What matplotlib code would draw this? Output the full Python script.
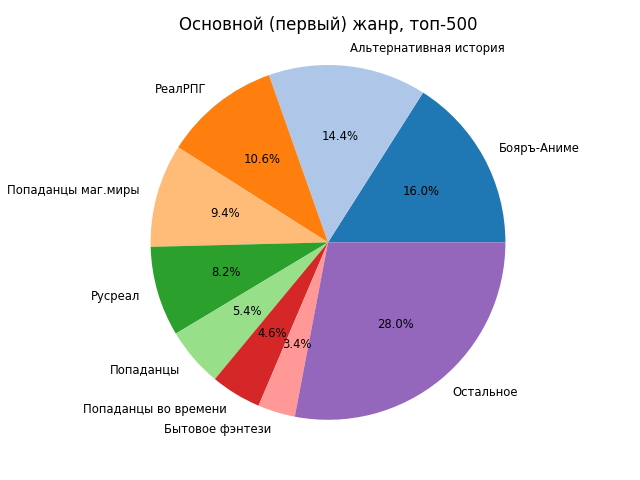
import matplotlib
matplotlib.use("Agg")
import matplotlib.pyplot as plt

labels = ["Бояръ-Аниме", "Альтернативная история", "РеалРПГ", "Попаданцы маг.миры",
          "Русреал", "Попаданцы", "Попаданцы во времени", "Бытовое фэнтези", "Остальное"]
counts = [80, 72, 53, 47, 41, 27, 23, 17, 140]

colors = plt.get_cmap("tab20").colors[:len(counts)]

fig, ax = plt.subplots(figsize=(6.4, 4.8), dpi=100)
ax.pie(counts, labels=labels, autopct="%1.1f%%", colors=colors, radius=1.2,
       textprops={"fontsize": "small"})
ax.set_title("Основной (первый) жанр, топ-500", pad=20)
fig.savefig("out.png")
